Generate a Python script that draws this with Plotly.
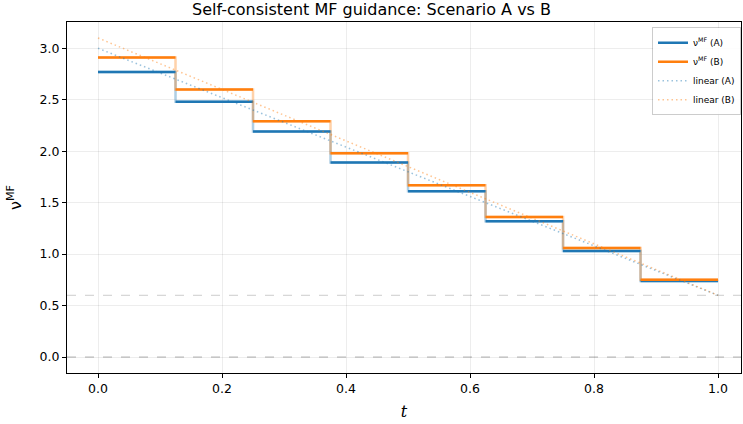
import plotly.graph_objects as go

edges = [0.0, 0.125, 0.25, 0.375, 0.5, 0.625, 0.75, 0.875, 1.0]
nu_a = [2.77, 2.48, 2.19, 1.89, 1.61, 1.32, 1.03, 0.74]
nu_b = [2.91, 2.60, 2.29, 1.98, 1.67, 1.36, 1.06, 0.75]
lin_t = [0.0, 1.0]
lin_a = [3.0, 0.6]
lin_b = [3.1, 0.6]
floor_level = 0.6
zero_level = 0.0

blue = "#1f77b4"
orange = "#ff7f0e"

fig = go.Figure()

def step_xy(vals):
    xs, ys = [], []
    for i, v in enumerate(vals):
        xs += [edges[i], edges[i + 1]]
        ys += [v, v]
    return xs, ys

def seg_xy(vals):
    xs, ys = [], []
    for i, v in enumerate(vals):
        xs += [edges[i], edges[i + 1], None]
        ys += [v, v, None]
    return xs, ys

# faint connectors
for vals, col in [(nu_a, blue), (nu_b, orange)]:
    xs, ys = step_xy(vals)
    fig.add_trace(go.Scatter(x=xs, y=ys, mode="lines", line=dict(color=col, width=2.5),
                             opacity=0.35, showlegend=False, hoverinfo="skip"))

for vals, col, name in [(nu_a, blue, "ν<sup>MF</sup> (A)"), (nu_b, orange, "ν<sup>MF</sup> (B)")]:
    xs, ys = seg_xy(vals)
    fig.add_trace(go.Scatter(x=xs, y=ys, mode="lines", line=dict(color=col, width=2.5),
                             name=name, connectgaps=False))

fig.add_trace(go.Scatter(x=lin_t, y=lin_a, mode="lines", line=dict(color=blue, width=1.5, dash="1.5px,3px"),
                         opacity=0.45, name="linear (A)"))
fig.add_trace(go.Scatter(x=lin_t, y=lin_b, mode="lines", line=dict(color=orange, width=1.5, dash="1.5px,3px"),
                         opacity=0.45, name="linear (B)"))

fig.add_hline(y=floor_level, line=dict(color="rgba(128,128,128,0.4)", width=1, dash="dash"), layer="below")
fig.add_hline(y=zero_level, line=dict(color="rgba(128,128,128,0.6)", width=1, dash="dash"), layer="below")

axis_common = dict(showline=True, linecolor="black", linewidth=1, mirror=True,
                   ticks="outside", ticklen=4, tickcolor="black",
                   showgrid=True, gridcolor="rgba(0,0,0,0.07)", zeroline=False,
                   tickfont=dict(family="DejaVu Sans", size=12.5, color="black"))

fig.update_layout(
    width=743, height=424,
    margin=dict(l=67, r=2, t=22, b=51),
    paper_bgcolor="white", plot_bgcolor="white",
    title=dict(text="Self-consistent MF guidance: Scenario A vs B", x=0.5, xanchor="center",
               y=0.978, yanchor="middle",
               font=dict(family="DejaVu Sans", size=16, color="black")),
    xaxis=dict(range=[-0.05, 1.037], tickvals=[0, 0.2, 0.4, 0.6, 0.8, 1.0],
               ticktext=["0.0", "0.2", "0.4", "0.6", "0.8", "1.0"],
               title=dict(text="<i>t</i>", font=dict(family="DejaVu Serif", size=16, color="black"), standoff=10),
               **axis_common),
    yaxis=dict(range=[-0.155, 3.255], tickvals=[0, 0.5, 1.0, 1.5, 2.0, 2.5, 3.0],
               ticktext=["0.0", "0.5", "1.0", "1.5", "2.0", "2.5", "3.0"],
               title=dict(text="ν<sup>MF</sup>", font=dict(family="DejaVu Sans", size=16, color="black"), standoff=14),
               **axis_common),
    legend=dict(x=1.0, y=0.985, xanchor="right", yanchor="top",
                bgcolor="rgba(255,255,255,0.85)", bordercolor="rgba(0,0,0,0.2)", borderwidth=1,
                font=dict(family="DejaVu Sans", size=9, color="black"),
                tracegroupgap=0, itemwidth=30),
    showlegend=True,
)

fig.write_html("out.html", config={"displayModeBar": False},
               post_script="document.body.style.margin='0';")
